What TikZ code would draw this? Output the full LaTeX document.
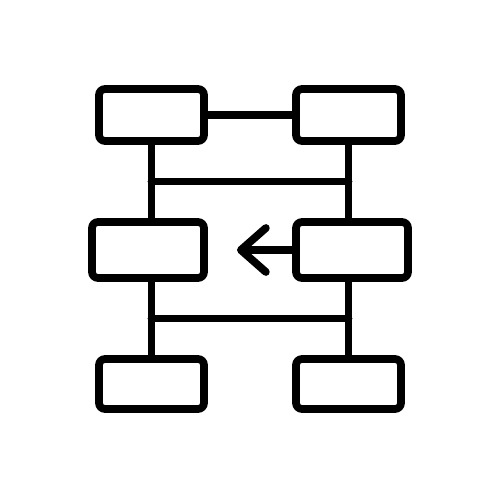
\documentclass[tikz,border=0pt]{standalone}
\usetikzlibrary{calc,arrows.meta}
\tikzset{
  rack/.style={line width=0.155cm, line cap=round, line join=round},
  cell/.style={rack, draw, rounded corners=0.12cm, minimum width=2.1cm, minimum height=1.04cm, inner sep=0pt},
  widecell/.style={cell, minimum width=2.24cm, minimum height=1.12cm}
}
\begin{document}
\begin{tikzpicture}[x=0.02cm,y=-0.02cm]
  \useasboundingbox (0,0) rectangle (500,500);
  \node[cell] (tl) at (151.5,115) {};
  \node[cell] (tr) at (348.5,115) {};
  \node[widecell] (ml) at (148,250) {};
  \node[widecell] (mr) at (352,250) {};
  \node[cell, minimum height=1cm] (bl) at (151.5,384) {};
  \node[cell, minimum height=1cm] (br) at (348.5,384) {};
  \coordinate (tip) at (237,250);
  \begin{scope}[rack]
    \draw (tl.east) -- (tr.west);
    \draw (tl.south) -- (tl.south |- ml.north);
    \draw (tl.south |- ml.south) -- (bl.north);
    \draw (tr.south) -- (tr.south |- mr.north);
    \draw (tr.south |- mr.south) -- (br.north);
    \draw ($(tl.south)!0.5!(tl.south |- ml.north)$) -- ($(tr.south)!0.5!(tr.south |- mr.north)$);
    \draw ($(bl.north)!0.5!(bl.north |- ml.south)$) -- ($(br.north)!0.5!(br.north |- mr.south)$);
    \draw[-{Straight Barb[length=0.5cm, width=0.88cm, round]}] (mr.west) -- (tip);
  \end{scope}
\end{tikzpicture}
\end{document}
